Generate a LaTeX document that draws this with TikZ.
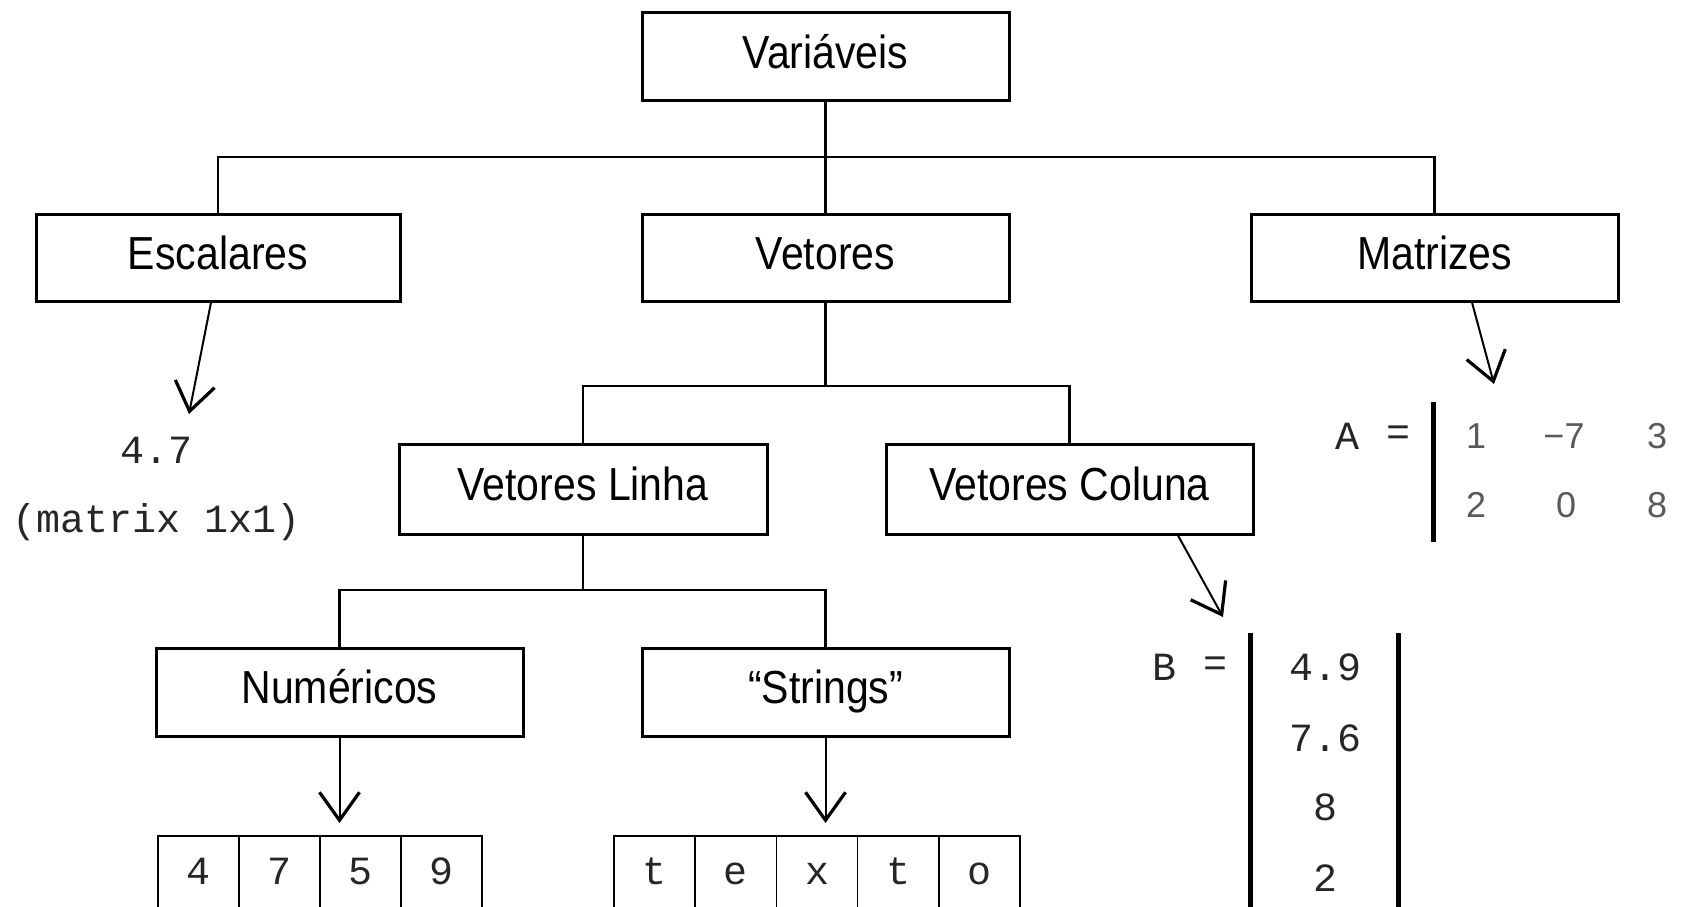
\documentclass[tikz,border=0pt]{standalone}
\usepackage{graphicx}
\usepackage{fontspec}
\setmainfont{Liberation Sans}
\newfontfamily\cour{Liberation Mono}
\usetikzlibrary{arrows.meta,calc}
\newcommand{\tallbox}[1]{\scalebox{1}[1.13]{#1}}
\begin{document}
\begin{tikzpicture}[x=1pt,y=-1pt,
  box/.style={draw,line width=3pt,minimum width=367pt,minimum height=87pt,inner sep=0pt,text height=35pt,text depth=11.8pt,font=\fontsize{41}{41}\selectfont},
  tree/.style={line width=2.7pt},
  arr/.style={line width=2pt,-{Straight Barb[length=28pt,width=40pt,line width=3.2pt]}},
  mono/.style={font=\cour\fontsize{40}{40}\selectfont,inner sep=0pt,text=black!85},
  adig/.style={font=\fontsize{36}{36}\selectfont,inner sep=0pt,text=black!65},
  cell/.style={draw,line width=1.5pt,minimum width=81pt,minimum height=72pt,inner sep=0pt,text height=24pt,text depth=0pt,font=\cour\fontsize{40}{40}\selectfont,text=black!85},
  bar/.style={line width=5pt}]
\useasboundingbox (0,0) rectangle (1697,907);
% boxes
\node[box] (var) at (825.5,56.5) {\tallbox{Variáveis}};
\node[box,minimum width=364pt] (esc) at (218,257.5) {\tallbox{Escalares}};
\node[box] (vet) at (825.5,257.5) {\tallbox{Vetores}};
\node[box] (mat) at (1434.5,257.5) {\tallbox{Matrizes}};
\node[box,minimum height=90pt,minimum width=368pt] (vl) at (583,489) {\tallbox{Vetores Linha}};
\node[box,minimum height=90pt] (vc) at (1069.5,489) {\tallbox{Vetores Coluna}};
\node[box,minimum height=88pt] (num) at (339.5,692) {\tallbox{Numéricos}};
\node[box,minimum height=88pt] (str) at (825.5,692) {\tallbox{“Strings”}};
% tree connectors
\coordinate (j1) at (825.5,157);
\coordinate (j2) at (825.5,386);
\coordinate (j3) at (583,590);
\draw[tree] (var.south) -- (vet.north);
\draw[tree] (esc.north) |- (j1) -| (mat.north);
\draw[tree] (vet.south) -- (j2);
\draw[tree] (vl.north) |- (j2) -| (vc.north);
\draw[tree] (vl.south) -- (j3);
\draw[tree] (num.north) |- (j3) -| (str.north);
% scalar
\node[mono] (s1) at (157,450) {4.7};
\node[mono] (s2) at (157,522) {(matrix 1x1)};
\coordinate (e1) at (189,414);
\draw[arr] ($(esc.south)+(-7,0)$) -- (e1);
% matrix A
\node[mono] (aA) at (1347,436) {A};
\node[mono] (aeq) at (1398,436) {=};
\draw[bar] (1433,402) -- (1433,542);
\node[adig] (a11) at (1476,436) {1};
\node[adig] (a12) at (1564,436) {−7};
\node[adig] (a13) at (1657,436) {3};
\node[adig] (a21) at (1476,505) {2};
\node[adig] (a22) at (1566,505) {0};
\node[adig] (a23) at (1657,505) {8};
\coordinate (e2) at (1494,384);
\draw[arr] ($(mat.south)+(37.5,0)$) -- (e2);
% matrix B
\node[mono] (bB) at (1164,667) {B};
\node[mono] (beq) at (1215,667) {=};
\draw[bar] (1250,633) -- (1250,912);
\draw[bar] (1398,633) -- (1398,912);
\node[mono] (b1) at (1325,667) {4.9};
\node[mono] (b2) at (1325,738) {7.6};
\node[mono] (b3) at (1325,807) {8};
\node[mono] (b4) at (1325,878) {2};
\coordinate (e3) at (1223,617);
\draw[arr] ($(vc.south)+(108.5,0)$) -- (e3);
% numeric vector
\coordinate (e4) at (339.5,823);
\draw[arr] (num.south) -- (e4);
\node[cell] (n1) at (198.5,872) {4};
\node[cell] (n2) at (279.5,872) {7};
\node[cell] (n3) at (360.5,872) {5};
\node[cell] (n4) at (441.5,872) {9};
% string vector
\coordinate (e5) at (825.5,823);
\draw[arr] (str.south) -- (e5);
\node[cell] (t1) at (654.6,872) {t};
\node[cell] (t2) at (735.8,872) {e};
\node[cell] (t3) at (817,872) {x};
\node[cell] (t4) at (898.2,872) {t};
\node[cell] (t5) at (979.4,872) {o};
\end{tikzpicture}
\end{document}
